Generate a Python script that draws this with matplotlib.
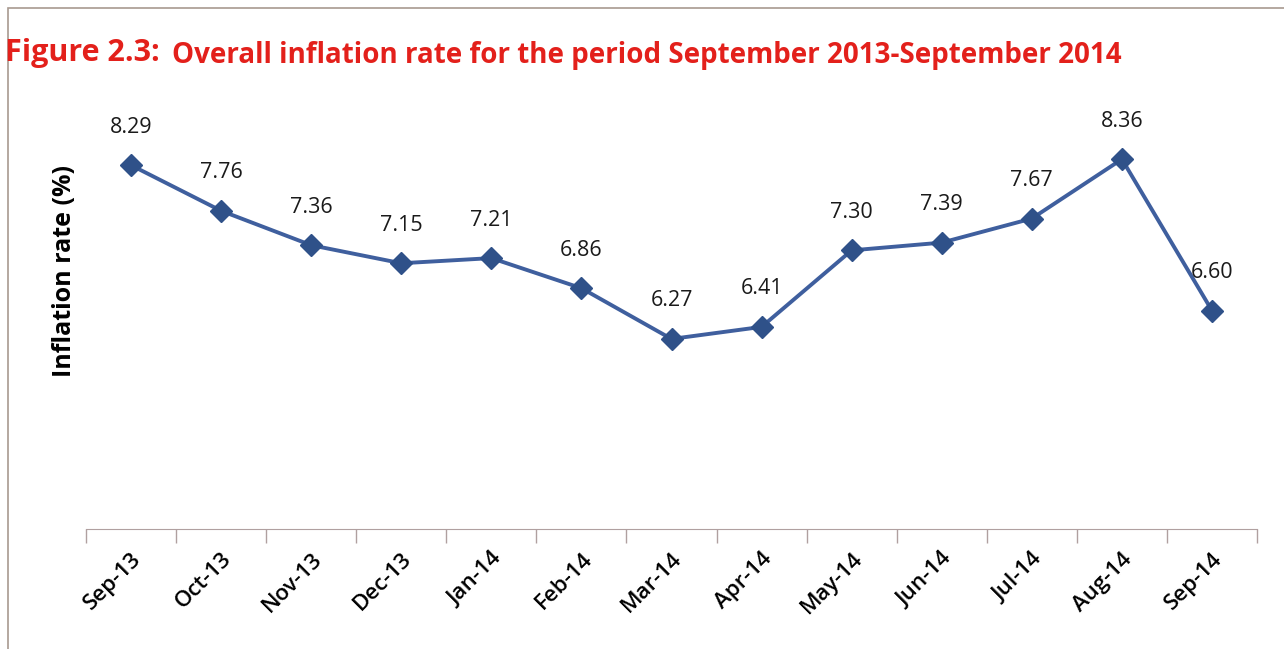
import numpy as np
import matplotlib.pyplot as plt
from matplotlib.patches import Rectangle

months = ["Sep-13", "Oct-13", "Nov-13", "Dec-13", "Jan-14", "Feb-14", "Mar-14",
          "Apr-14", "May-14", "Jun-14", "Jul-14", "Aug-14", "Sep-14"]
inflation = [8.29, 7.76, 7.36, 7.15, 7.21, 6.86, 6.27, 6.41, 7.30, 7.39, 7.67, 8.36, 6.60]

plt.rcParams["font.family"] = ["Open Sans", "DejaVu Sans"]

x = np.arange(len(months))

fig = plt.figure(figsize=(12.84, 6.49), dpi=100)
ax = fig.add_axes([86 / 1284, 1 - 529 / 649, (1257 - 86) / 1284, (529 - 99) / 649])

ax.plot(x, inflation, color="#3f5f9e", lw=2.8, marker="D", ms=11,
        mfc="#2f5189", mec="#2f5189", zorder=3)
for xi, v in zip(x, inflation):
    ax.annotate(f"{v:.2f}", (xi, v), xytext=(0, 38), textcoords="offset pixels",
                ha="center", va="center", fontsize=15.5, color="#1a1a1a")

ax.set_xlim(-0.5, len(months) - 0.5)
ax.set_ylim(4.06, 9.06)
ax.set_xticks(np.arange(len(months) + 1) - 0.5)
ax.set_xticklabels([])
ax.set_xticks(x, minor=True)
ax.set_xticklabels(months, minor=True, rotation=45, ha="right",
                   rotation_mode="anchor", fontsize=16, fontweight="semibold")
ax.tick_params(axis="x", which="major", length=10, color="#b0a0a0", width=1)
ax.tick_params(axis="x", which="minor", length=0, pad=14)
ax.set_yticks([])
for s in ["left", "top", "right"]:
    ax.spines[s].set_visible(False)
ax.spines["bottom"].set_color("#b0a0a0")
ax.set_ylabel("Inflation rate (%)", fontsize=18, fontweight="bold")
ax.yaxis.set_label_coords(-0.008, 0.6)

fig.text(0.004, 1 - 53 / 649, "Figure 2.3:", color="#e3201b", fontsize=22,
         fontweight="bold", va="center")
fig.text(172 / 1284, 1 - 55 / 649, "Overall inflation rate for the period September 2013-September 2014",
         color="#e3201b", fontsize=20, fontweight="bold", va="center")

fig.patches.append(Rectangle((8 / 1284, -0.01), 1.1, 1 - 8 / 649 + 0.01,
                             transform=fig.transFigure, fill=False,
                             edgecolor="#a89a90", lw=1.2))

fig.savefig("out.png", dpi=100)
